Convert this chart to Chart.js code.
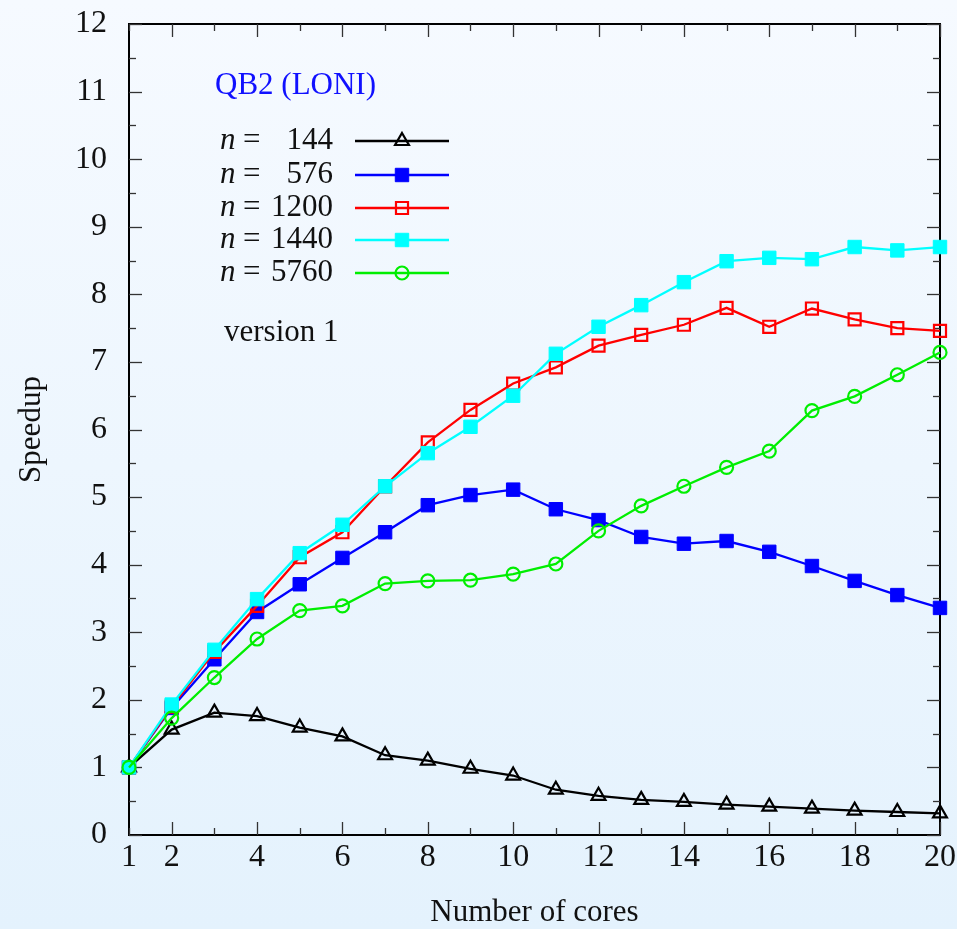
<!DOCTYPE html>
<html><head><meta charset="utf-8">
<script src="https://cdn.jsdelivr.net/npm/chart.js@4.4.0/dist/chart.umd.min.js"></script>
<style>
html,body{margin:0;padding:0;}
body{width:957px;height:929px;background:linear-gradient(to bottom,#f6faff 0%,#e4f2fd 100%);overflow:hidden;}
</style></head><body>
<canvas id="c" width="957" height="929"></canvas>
<script>
const cores = [1,2,3,4,5,6,7,8,9,10,11,12,13,14,15,16,17,18,19,20];
const xTickLabels = [1,2,4,6,8,10,12,14,16,18,20];
const yTickLabels = [0,1,2,3,4,5,6,7,8,9,10,11,12];
const seriesNames = ['144','576','1200','1440','5760'];
const n144  = [1.00,1.56,1.81,1.76,1.59,1.46,1.18,1.10,0.98,0.88,0.67,0.58,0.52,0.49,0.45,0.42,0.39,0.36,0.34,0.32];
const n576  = [1.00,1.88,2.60,3.30,3.71,4.10,4.48,4.88,5.03,5.11,4.82,4.66,4.41,4.31,4.35,4.19,3.98,3.76,3.55,3.36];
const n1200 = [1.00,1.90,2.71,3.39,4.11,4.48,5.16,5.81,6.29,6.68,6.92,7.24,7.40,7.55,7.80,7.52,7.79,7.63,7.50,7.46];
const n1440 = [1.00,1.93,2.74,3.49,4.17,4.59,5.16,5.65,6.04,6.50,7.12,7.52,7.84,8.18,8.49,8.54,8.52,8.70,8.65,8.70];
const n5760 = [1.00,1.73,2.33,2.90,3.32,3.39,3.72,3.76,3.77,3.86,4.01,4.50,4.87,5.16,5.44,5.68,6.28,6.49,6.81,7.14];

const FONT = '"Liberation Serif", "Times New Roman", serif';

function ds(label, data, color, style, radius, filled, order) {
  return {
    label, data: cores.map((c,i)=>({x:c, y:data[i]})),
    borderColor: color, backgroundColor: filled ? color : 'rgba(0,0,0,0)',
    pointBackgroundColor: filled ? color : 'rgba(0,0,0,0)',
    pointBorderColor: color, pointStyle: style, pointRadius: radius, pointHoverRadius: radius,
    pointBorderWidth: filled ? 1 : 2.2, borderWidth: 2.3, tension: 0, clip: false, order
  };
}

const overlay = {
  id: 'overlay',
  beforeDatasetsDraw(chart) {
    const {ctx, chartArea: a, scales: {x, y}} = chart;
    ctx.save();
    ctx.strokeStyle = '#000'; ctx.lineWidth = 2;
    ctx.strokeRect(a.left, a.top, a.right - a.left, a.bottom - a.top);
    ctx.lineWidth = 1.3; ctx.strokeStyle = '#333';
    const seg = (x1,y1,x2,y2)=>{ctx.beginPath();ctx.moveTo(x1,y1);ctx.lineTo(x2,y2);ctx.stroke();};
    for (const v of cores) {
      const px = Math.round(x.getPixelForValue(v)) + 0.5;
      const len = (v % 2 === 0) ? 13 : 7;
      seg(px, a.bottom, px, a.bottom - len);
      seg(px, a.top, px, a.top + len);
    }
    for (let v = 0; v <= 12; v += 0.5) {
      const py = Math.round(y.getPixelForValue(v)) + 0.5;
      const len = Number.isInteger(v) ? 13 : 7;
      seg(a.left, py, a.left + len, py);
      seg(a.right, py, a.right - len, py);
    }
    ctx.restore();
  },
  afterDatasetsDraw(chart) {
    const {ctx, chartArea: a} = chart;
    ctx.save();
    ctx.textBaseline = 'middle';
    ctx.font = '31px ' + FONT;
    ctx.fillStyle = '#1010ff';
    ctx.textAlign = 'left';
    ctx.fillText('QB2 (LONI)', a.left + 86, a.top + 62);
    const rows = [117, 151, 184, 216, 249];
    chart.data.datasets.forEach((d, i) => {
      const yy = a.top + rows[i];
      ctx.fillStyle = '#111';
      ctx.textAlign = 'left';
      ctx.font = 'italic 31px ' + FONT;
      ctx.fillText('n', a.left + 91, yy);
      ctx.font = '31px ' + FONT;
      ctx.fillText('=', a.left + 114, yy);
      ctx.textAlign = 'right';
      ctx.fillText(seriesNames[i], a.left + 204, yy);
      ctx.strokeStyle = d.borderColor; ctx.lineWidth = 2.3;
      ctx.beginPath(); ctx.moveTo(a.left + 226, yy); ctx.lineTo(a.left + 320, yy); ctx.stroke();
      ctx.fillStyle = d.pointBackgroundColor; ctx.strokeStyle = d.pointBorderColor;
      ctx.lineWidth = d.pointBorderWidth;
      Chart.helpers.drawPoint(ctx, {pointStyle: d.pointStyle, radius: d.pointRadius, borderWidth: d.pointBorderWidth, rotation: 0}, a.left + 273, yy);
    });
    ctx.fillStyle = '#111'; ctx.textAlign = 'left'; ctx.font = '31px ' + FONT;
    ctx.fillText('version 1', a.left + 95, a.top + 309);
    ctx.restore();
  }
};

new Chart(document.getElementById('c'), {
  type: 'line',
  data: {
    datasets: [
      ds(seriesNames[0], n144, '#000000', 'triangle', 8, false, 4),
      ds(seriesNames[1], n576, '#0000ff', 'rect', 9.5, true, 3),
      ds(seriesNames[2], n1200, '#ff0000', 'rect', 8.5, false, 2),
      ds(seriesNames[3], n1440, '#00ffff', 'rect', 9.5, true, 1),
      ds(seriesNames[4], n5760, '#00ee00', 'circle', 6.5, false, 0)
    ]
  },
  options: {
    responsive: false, animation: false,
    layout: {padding: {top: 24, right: 17, left: 0, bottom: 0}},
    plugins: {legend: {display: false}, tooltip: {enabled: false}},
    scales: {
      x: {
        type: 'linear', min: 1, max: 20,
        afterBuildTicks: s => { s.ticks = xTickLabels.map(v => ({value: v})); },
        afterFit: s => { s.height = 94; s.paddingLeft = 0; s.paddingRight = 0; },
        grid: {display: false, drawTicks: false}, border: {display: false},
        ticks: {font: {family: FONT, size: 32}, color: '#111', padding: 3, maxRotation: 0, autoSkip: false},
        title: {display: true, text: 'Number of cores', font: {family: FONT, size: 31}, color: '#111', padding: {top: 0, bottom: -2}}
      },
      y: {
        min: 0, max: 12,
        afterBuildTicks: s => { s.ticks = yTickLabels.map(v => ({value: v})); },
        afterFit: s => { s.width = 129; s.paddingTop = 0; s.paddingBottom = 0; },
        grid: {display: false, drawTicks: false}, border: {display: false},
        ticks: {font: {family: FONT, size: 32}, color: '#111', padding: 22},
        title: {display: true, text: 'Speedup', font: {family: FONT, size: 31}, color: '#111', padding: {top: 13, bottom: 0}}
      }
    }
  },
  plugins: [overlay]
});
</script>
</body></html>
